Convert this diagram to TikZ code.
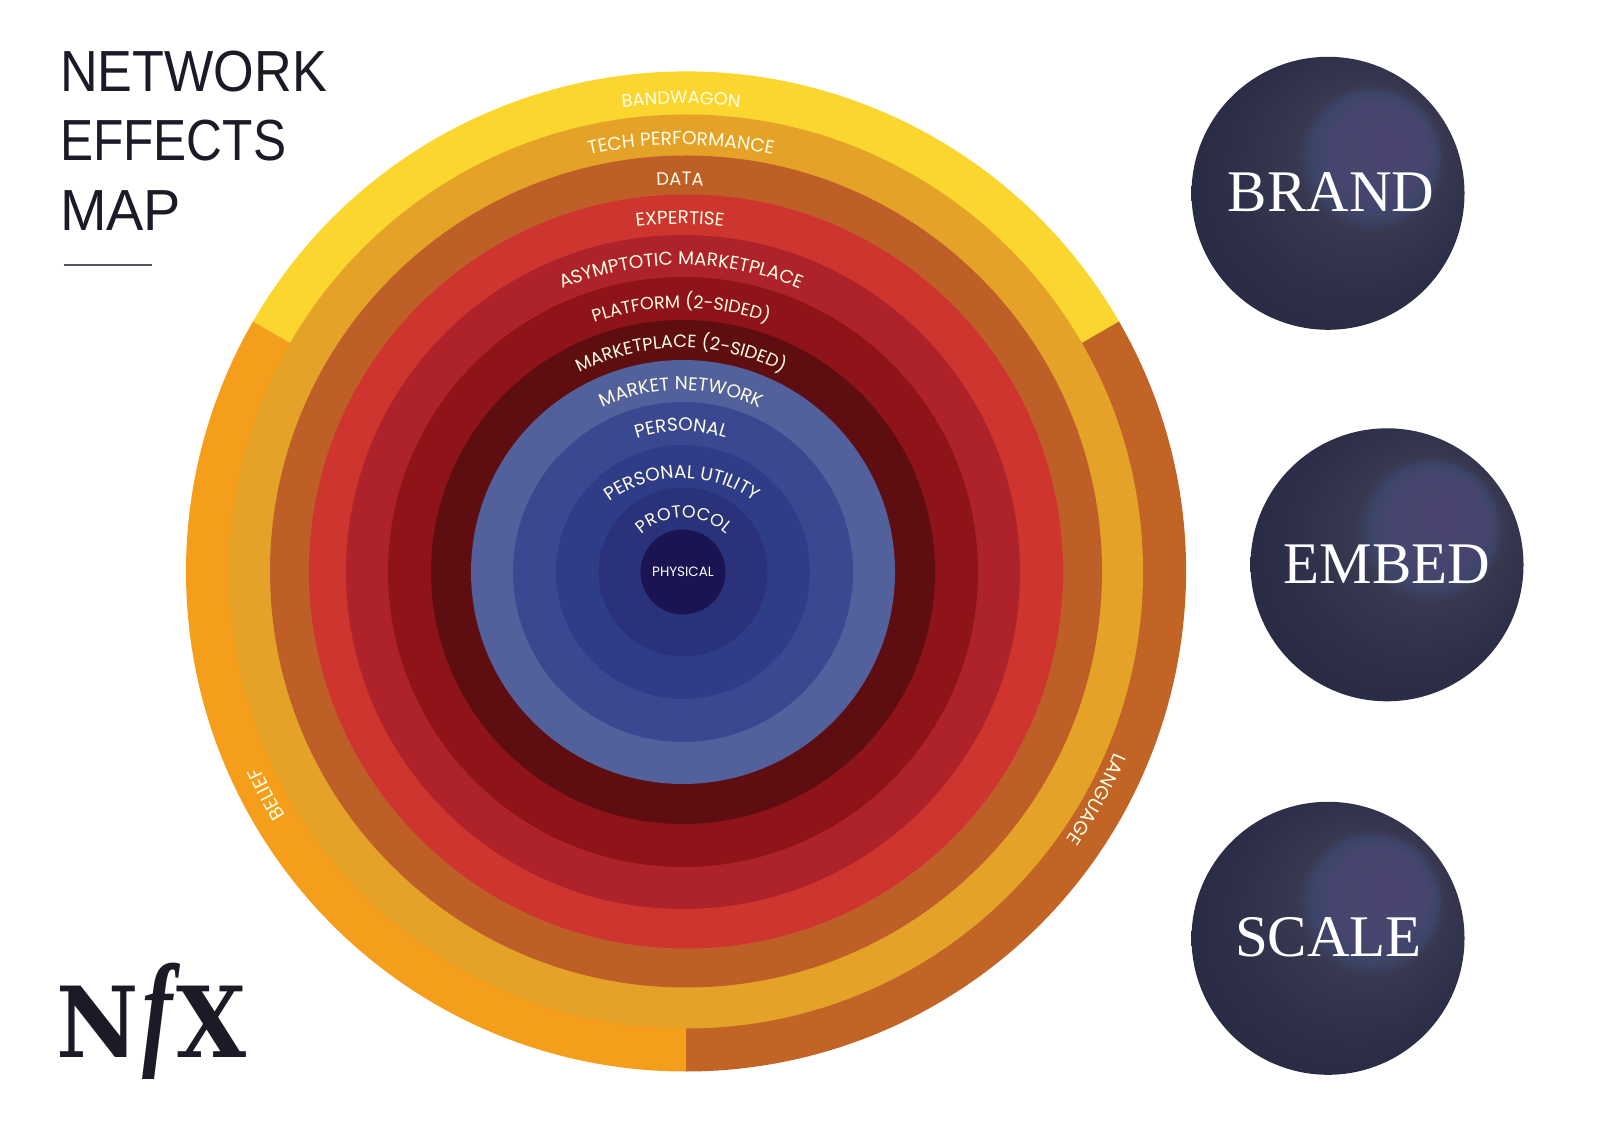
\documentclass[tikz,border=0pt]{standalone}
\usepackage{fontspec}
\setmainfont{Liberation Sans}[FakeStretch=0.9]
\newfontfamily\ringfont{Poppins}
\newfontfamily\spherefont{Liberation Serif}
\newfontfamily\logofont{DejaVu Serif}[FakeStretch=0.92]
\newfontfamily\logohook{Liberation Serif}[FakeStretch=0.72]
\usepackage{tikz}
\usetikzlibrary{decorations.text}
\usepackage{xcolor}

\definecolor{bandyellow}{HTML}{FBD62F}
\definecolor{beliefor}{HTML}{F59E1C}
\definecolor{langrust}{HTML}{C26425}
\definecolor{techgold}{HTML}{E5A228}
\definecolor{datarust}{HTML}{BF5F28}
\definecolor{expred}{HTML}{CE352E}
\definecolor{asymred}{HTML}{AE2329}
\definecolor{platred}{HTML}{8E1419}
\definecolor{markred}{HTML}{5E0D10}
\definecolor{netblue}{HTML}{52609C}
\definecolor{persblue}{HTML}{3A4891}
\definecolor{utilblue}{HTML}{2F3C87}
\definecolor{protblue}{HTML}{2A327C}
\definecolor{physblue}{HTML}{1A1552}
\definecolor{inkdark}{HTML}{1B1B28}

\definecolor{glowa}{HTML}{4A4570}
\definecolor{glowb}{HTML}{47456F}
\definecolor{glowc}{HTML}{3C4568}
\definecolor{glowd}{HTML}{383850}
\definecolor{glowe}{HTML}{2E3049}
\definecolor{glowf}{HTML}{23253F}
\pgfdeclareradialshading{spherefill}{\pgfpoint{12bp}{10bp}}{%
  color(0bp)=(glowa);color(8.5bp)=(glowb);color(11.4bp)=(glowc);color(13.5bp)=(glowd);color(22bp)=(glowe);color(38bp)=(glowf)}

\tikzset{
  spherelabel/.style={anchor=base,text=white,font=\spherefont\fontsize{59}{59}\selectfont},
  titleline/.style={anchor=base west,text=inkdark,inner sep=0pt,font=\fontsize{58}{58}\selectfont},
}

% size, center, mid angle, half span, radius, label
\newcommand{\ringlabel}[6][18.5]{%
  \path[decorate,decoration={text along path,text align=center,
    text={|\ringfont\fontsize{#1}{#1}\selectfont\color{white!90!yellow}|#6}}]
    (#2) ++(#3+#4:#5) arc (#3+#4:#3-#4:#5);}

\begin{document}
\begin{tikzpicture}[x=1pt,y=1pt]
  \useasboundingbox (0,0) rectangle (1600,1130);
  \coordinate (outerc) at (686,558.5);
  \coordinate (innerc) at (683,558);
  % outer ring, three parts
  \fill[bandyellow] (outerc) -- ++(150:500) arc (150:30:500) -- cycle;
  \fill[langrust] (outerc) -- ++(30:500) arc (30:-90:500) -- cycle;
  \fill[beliefor] (outerc) -- ++(-90:500) arc (270:150:500) -- cycle;
  \fill[techgold] (outerc) circle (457);
  \fill[datarust] (outerc) circle (416);
  \fill[expred] (outerc) circle (377);
  \fill[asymred] (innerc) circle (337);
  \fill[platred] (innerc) circle (295);
  \fill[markred] (innerc) circle (252);
  \fill[netblue] (innerc) circle (212);
  \fill[persblue] (innerc) circle (170);
  \fill[utilblue] (innerc) circle (127);
  \fill[protblue] (innerc) circle (84.5);
  \fill[physblue] (innerc) circle (42.5);

  % ring labels
  \ringlabel[17.8]{681,559}{90}{60}{467}{BANDWAGON}
  \ringlabel[18.7]{681,559}{90}{60}{426}{TECH PERFORMANCE}
  \ringlabel[18]{680,559}{90}{60}{386}{DATA}
  \ringlabel[18.5]{680,559}{90}{60}{347}{EXPERTISE}
  \ringlabel{681,559}{90}{60}{306}{ASYMPTOTIC MARKETPLACE}
  \ringlabel[17.6]{681,559}{90}{60}{263}{PLATFORM (2-SIDED)}
  \ringlabel[17.9]{681,559}{90}{70}{223}{MARKETPLACE (2-SIDED)}
  \ringlabel{681,559}{90}{70}{181}{MARKET NETWORK}
  \ringlabel{681,559}{90}{70}{140}{PERSONAL}
  \ringlabel{682,529}{90}{85}{123}{PERSONAL UTILITY}
  \ringlabel[17.4]{684,550}{90}{85}{62}{PROTOCOL}
  \node[font=\ringfont\fontsize{13.5}{13.5}\selectfont,text=white] (physical) at (683,558) {PHYSICAL};
  \ringlabel[19]{686,558.5}{-29}{30}{465}{LANGUAGE}
  \ringlabel[19.5]{686,558.5}{208}{30}{469}{BELIEF}

  % title
  \node[titleline] (network) at (60,1130-91.7) {NETWORK};
  \node[titleline,xscale=0.95,transform shape] (effects) at (60,1130-160.7) {EFFECTS};
  \node[titleline,xscale=1.07,transform shape] (map) at (60,1130-231) {MAP};
  \draw[inkdark!75,line width=1.5pt] (63.5,1130-265) -- (152,1130-265);

  % spheres
  \shade[shading=spherefill] (1328,936.7) circle (136.5);
  \shade[shading=spherefill] (1387,565.2) circle (136.5);
  \shade[shading=spherefill] (1328,191.7) circle (136.5);
  \node[spherelabel] (brand) at (1331,918.3) {BRAND};
  \node[spherelabel] (embed) at (1387,546.3) {EMBED};
  \node[spherelabel] (scale) at (1328.5,174) {SCALE};

  % logo
  \node[anchor=base west,inner sep=0pt,text=inkdark,font=\logofont\bfseries\fontsize{98}{98}\selectfont] (logo) at (56,1130-1057)
    {N\makebox[38pt][c]{\raisebox{5pt}{\logohook\bfseries\itshape\fontsize{127}{127}\selectfont f}}X};
\end{tikzpicture}
\end{document}
